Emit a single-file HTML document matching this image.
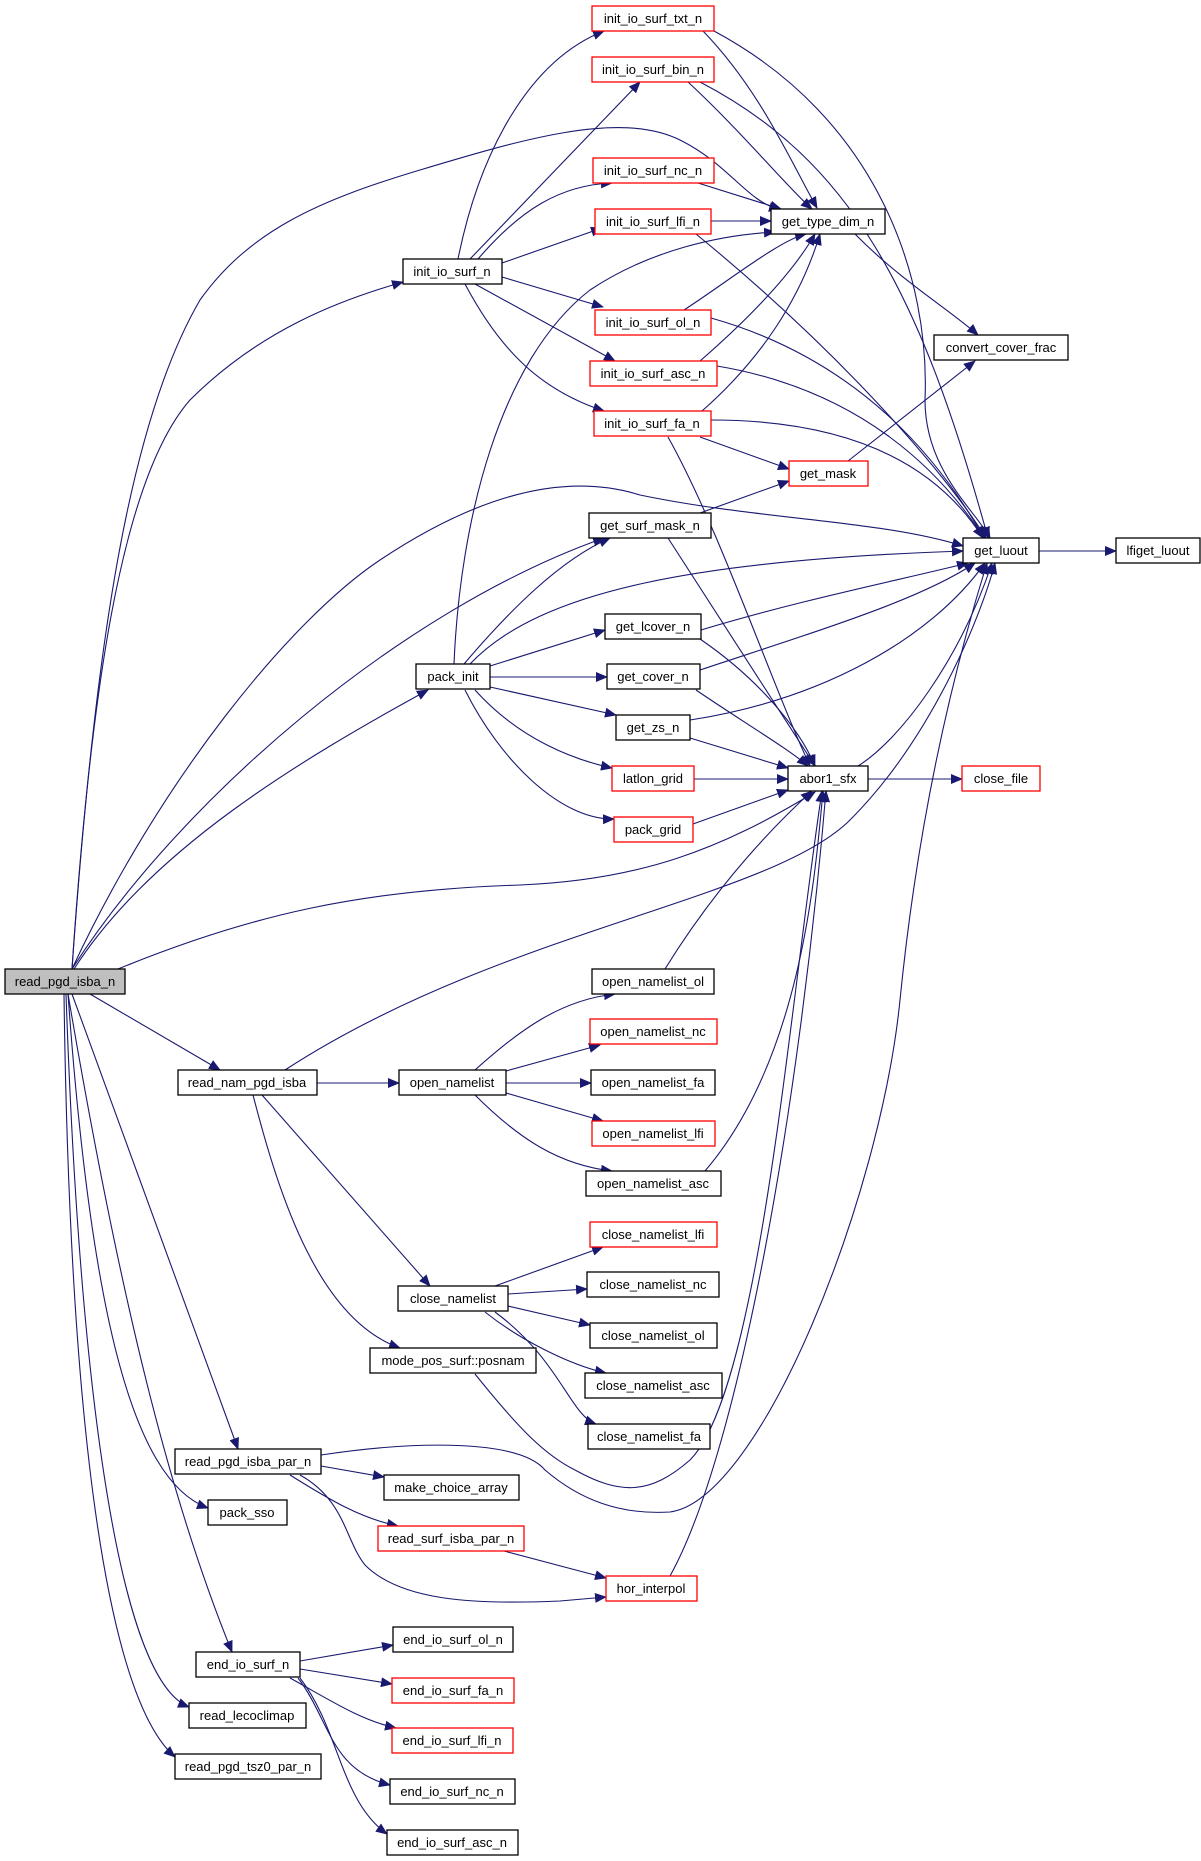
<!DOCTYPE html>
<html><head><meta charset="utf-8"><style>
html,body{margin:0;padding:0;background:#fff}
svg{display:block}
text{font-family:"Liberation Sans",Arial,sans-serif;font-size:13px;fill:#000}
.e{fill:none;stroke:#191970;stroke-width:1.1}
</style></head><body>
<svg width="1201" height="1861" viewBox="0 0 1201 1861" xmlns="http://www.w3.org/2000/svg">
<defs><marker id="a" markerWidth="12" markerHeight="10" refX="11" refY="5" orient="auto" markerUnits="userSpaceOnUse"><path d="M0,0 L12,5 L0,10 z" fill="#191970"/></marker></defs>
<g class="e" marker-end="url(#a)">
<path d="M72,969 C95,640 130,420 200,300 C250,230 320,200 420,170 C520,140 620,110 680,140 C730,165 745,200 780,210"/>
<path d="M72,969 C90,700 120,480 190,400 C260,330 340,300 403,282"/>
<path d="M72,969 C160,780 290,620 380,560 C470,500 560,470 640,495 C760,520 880,520 963,546"/>
<path d="M72,969 C180,800 400,610 604,538"/>
<path d="M74,969 C150,850 300,760 428,690"/>
<path d="M118,969 C250,915 360,890 520,885 C640,880 720,850 815,792"/>
<path d="M90,994 L220,1070"/>
<path d="M72,994 L238,1449"/>
<path d="M68,994 C90,1300 130,1480 208,1508"/>
<path d="M68,994 C120,1300 170,1500 232,1652"/>
<path d="M66,994 C80,1400 120,1680 189,1707"/>
<path d="M64,994 C70,1450 110,1700 175,1757"/>
<path d="M458,259 C480,150 530,60 604,31"/>
<path d="M470,259 L640,82"/>
<path d="M478,259 C520,210 560,185 612,183"/>
<path d="M502,263 L602,228"/>
<path d="M502,277 L603,307"/>
<path d="M475,284 L615,361"/>
<path d="M465,284 C500,350 540,390 604,411"/>
<path d="M703,31 C760,90 790,160 817,208"/>
<path d="M714,31 C880,120 930,280 925,400 C925,470 975,510 990,538"/>
<path d="M688,82 C740,130 790,190 812,209"/>
<path d="M700,82 C850,160 920,290 988,538"/>
<path d="M698,183 L781,209"/>
<path d="M711,221 L771,221"/>
<path d="M696,234 C850,360 950,480 986,538"/>
<path d="M684,310 C730,280 780,240 806,234"/>
<path d="M711,318 C860,360 940,460 984,538"/>
<path d="M700,361 C770,300 800,260 815,234"/>
<path d="M717,366 C860,390 940,470 984,538"/>
<path d="M702,411 C760,360 800,300 820,234"/>
<path d="M711,420 C860,420 940,470 983,538"/>
<path d="M700,437 L789,469"/>
<path d="M668,437 C720,530 770,680 810,766"/>
<path d="M855,234 C900,280 950,310 978,335"/>
<path d="M848,461 L975,361"/>
<path d="M700,513 L789,481"/>
<path d="M668,538 L815,766"/>
<path d="M1039,551 L1116,551"/>
<path d="M454,664 C460,520 500,360 590,290 C650,250 720,235 775,232"/>
<path d="M464,664 C510,610 560,560 610,538"/>
<path d="M470,664 C540,590 700,560 963,551"/>
<path d="M490,666 L605,630"/>
<path d="M490,677 L607,677"/>
<path d="M490,687 L616,715"/>
<path d="M475,690 C520,740 575,760 612,768"/>
<path d="M465,690 C500,760 560,820 614,819"/>
<path d="M701,630 C800,600 900,580 968,563"/>
<path d="M700,639 C760,680 800,730 815,766"/>
<path d="M700,670 C820,630 920,600 975,563"/>
<path d="M696,690 C740,720 790,750 808,766"/>
<path d="M690,720 C820,700 930,640 985,563"/>
<path d="M690,738 L788,768"/>
<path d="M694,779 L788,779"/>
<path d="M693,824 L788,790"/>
<path d="M858,766 C900,740 960,660 992,563"/>
<path d="M868,779 L962,779"/>
<path d="M285,1070 C500,930 770,900 850,820 C930,740 980,620 995,563"/>
<path d="M317,1083 L399,1083"/>
<path d="M262,1095 L430,1286"/>
<path d="M253,1095 C280,1200 320,1320 400,1348"/>
<path d="M475,1070 C520,1030 560,1000 615,994"/>
<path d="M506,1071 L600,1045"/>
<path d="M506,1083 L591,1083"/>
<path d="M506,1093 L603,1121"/>
<path d="M475,1095 C520,1140 560,1165 612,1171"/>
<path d="M665,969 C720,880 780,820 812,791"/>
<path d="M705,1171 C800,1060 815,880 823,791"/>
<path d="M495,1286 L603,1247"/>
<path d="M508,1294 L587,1289"/>
<path d="M508,1306 L590,1325"/>
<path d="M485,1312 C520,1340 570,1365 606,1373"/>
<path d="M495,1312 C560,1360 570,1415 596,1424"/>
<path d="M475,1374 C520,1430 545,1455 575,1470 C620,1495 650,1495 690,1460 C760,1390 790,1000 822,791"/>
<path d="M321,1455 C420,1440 520,1440 545,1470 C580,1500 620,1515 670,1512 C760,1500 880,1200 900,1000 C920,800 960,650 987,563"/>
<path d="M321,1466 L384,1477"/>
<path d="M290,1475 C330,1500 360,1518 398,1526"/>
<path d="M300,1475 C345,1500 345,1540 365,1565 C400,1600 470,1605 560,1601 L606,1597"/>
<path d="M504,1551 L606,1578"/>
<path d="M670,1576 C740,1450 800,1100 826,791" marker-end="url(#a)"/>
<path d="M300,1661 L393,1645"/>
<path d="M300,1669 L392,1684"/>
<path d="M290,1678 C330,1700 360,1720 396,1728"/>
<path d="M298,1678 C330,1720 330,1770 390,1785"/>
<path d="M300,1678 C340,1730 340,1800 387,1834"/>
</g>
<g id="n" stroke-width="1.3" text-anchor="middle">
<g stroke="#f00" fill="#fff">
<rect x="592" y="6" width="122" height="25"/><rect x="592" y="57" width="122" height="25"/><rect x="593" y="158" width="121" height="25"/><rect x="595" y="209" width="116" height="25"/><rect x="595" y="310" width="116" height="25"/><rect x="590" y="361" width="127" height="25"/><rect x="594" y="411" width="117" height="25"/><rect x="789" y="461" width="79" height="25"/><rect x="612" y="766" width="82" height="25"/><rect x="962" y="766" width="78" height="25"/><rect x="614" y="817" width="79" height="25"/><rect x="590" y="1019" width="127" height="25"/><rect x="592" y="1121" width="123" height="25"/><rect x="590" y="1222" width="127" height="25"/><rect x="378" y="1526" width="146" height="25"/><rect x="606" y="1576" width="91" height="25"/><rect x="392" y="1678" width="122" height="25"/><rect x="392" y="1728" width="121" height="25"/>
</g>
<g stroke="#000" fill="#fff">
<rect x="771" y="209" width="114" height="25"/><rect x="403" y="259" width="99" height="25"/><rect x="934" y="335" width="134" height="25"/><rect x="589" y="513" width="122" height="25"/><rect x="963" y="538" width="76" height="25"/><rect x="1116" y="538" width="84" height="25"/><rect x="605" y="614" width="96" height="25"/><rect x="416" y="664" width="74" height="25"/><rect x="607" y="664" width="93" height="25"/><rect x="616" y="715" width="74" height="25"/><rect x="788" y="766" width="80" height="25"/><rect x="5" y="969" width="120" height="25" fill="#bfbfbf"/><rect x="592" y="969" width="122" height="25"/><rect x="178" y="1070" width="139" height="25"/><rect x="399" y="1070" width="107" height="25"/><rect x="591" y="1070" width="124" height="25"/><rect x="586" y="1171" width="135" height="25"/><rect x="587" y="1272" width="132" height="25"/><rect x="398" y="1286" width="110" height="25"/><rect x="590" y="1323" width="127" height="25"/><rect x="370" y="1348" width="166" height="25"/><rect x="585" y="1373" width="137" height="25"/><rect x="588" y="1424" width="122" height="25"/><rect x="175" y="1449" width="146" height="25"/><rect x="384" y="1475" width="135" height="25"/><rect x="208" y="1500" width="79" height="25"/><rect x="393" y="1627" width="120" height="25"/><rect x="196" y="1652" width="104" height="25"/><rect x="189" y="1703" width="117" height="25"/><rect x="175" y="1754" width="146" height="25"/><rect x="390" y="1779" width="125" height="25"/><rect x="387" y="1830" width="131" height="25"/>
</g>
<g>
<text x="653" y="23">init_io_surf_txt_n</text><text x="653" y="74">init_io_surf_bin_n</text><text x="653" y="175">init_io_surf_nc_n</text><text x="653" y="226">init_io_surf_lfi_n</text><text x="653" y="327">init_io_surf_ol_n</text><text x="653" y="378">init_io_surf_asc_n</text><text x="652" y="428">init_io_surf_fa_n</text><text x="828" y="478">get_mask</text><text x="653" y="783">latlon_grid</text><text x="1001" y="783">close_file</text><text x="653" y="834">pack_grid</text><text x="653" y="1036">open_namelist_nc</text><text x="653" y="1138">open_namelist_lfi</text><text x="653" y="1239">close_namelist_lfi</text><text x="451" y="1543">read_surf_isba_par_n</text><text x="651" y="1593">hor_interpol</text><text x="453" y="1695">end_io_surf_fa_n</text><text x="452" y="1745">end_io_surf_lfi_n</text>
<text x="828" y="226">get_type_dim_n</text><text x="452" y="276">init_io_surf_n</text><text x="1001" y="352">convert_cover_frac</text><text x="650" y="530">get_surf_mask_n</text><text x="1001" y="555">get_luout</text><text x="1158" y="555">lfiget_luout</text><text x="653" y="631">get_lcover_n</text><text x="453" y="681">pack_init</text><text x="653" y="681">get_cover_n</text><text x="653" y="732">get_zs_n</text><text x="828" y="783">abor1_sfx</text><text x="65" y="986">read_pgd_isba_n</text><text x="653" y="986">open_namelist_ol</text><text x="247" y="1087">read_nam_pgd_isba</text><text x="452" y="1087">open_namelist</text><text x="653" y="1087">open_namelist_fa</text><text x="653" y="1188">open_namelist_asc</text><text x="653" y="1289">close_namelist_nc</text><text x="453" y="1303">close_namelist</text><text x="653" y="1340">close_namelist_ol</text><text x="453" y="1365">mode_pos_surf::posnam</text><text x="653" y="1390">close_namelist_asc</text><text x="649" y="1441">close_namelist_fa</text><text x="248" y="1466">read_pgd_isba_par_n</text><text x="451" y="1492">make_choice_array</text><text x="247" y="1517">pack_sso</text><text x="453" y="1644">end_io_surf_ol_n</text><text x="248" y="1669">end_io_surf_n</text><text x="247" y="1720">read_lecoclimap</text><text x="248" y="1771">read_pgd_tsz0_par_n</text><text x="452" y="1796">end_io_surf_nc_n</text><text x="452" y="1847">end_io_surf_asc_n</text>
</g>
</g>
</svg>
</body></html>
